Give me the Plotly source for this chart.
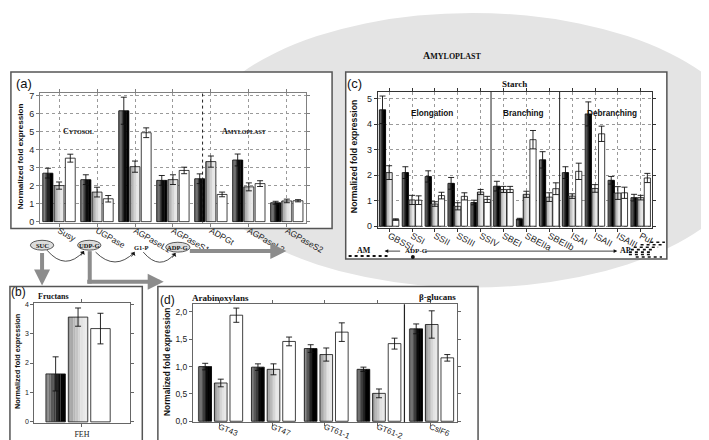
import plotly.graph_objects as go

W, H = 709, 440

# ---- panel (a): cytosol / amyloplast ----
a_genes = ["Susy", "UGPase", "AGPaseL1", "AGPaseS1", "ADPGt", "AGPaseL2", "AGPaseS2"]
a_black = [2.69, 2.33, 6.15, 2.29, 2.38, 3.42, 1.05]
a_black_err = [0.27, 0.27, 0.75, 0.27, 0.27, 0.33, 0.08]
a_gray = [2.0, 1.64, 3.05, 2.33, 3.33, 1.93, 1.15]
a_gray_err = [0.2, 0.27, 0.31, 0.27, 0.31, 0.22, 0.1]
a_white = [3.52, 1.27, 4.93, 2.84, 1.51, 2.11, 1.16]
a_white_err = [0.22, 0.18, 0.27, 0.18, 0.13, 0.16, 0.06]

# ---- panel (c): starch ----
c_genes = ["GBSSI", "SSI", "SSII", "SSIII", "SSIV", "SBEI", "SBEIIa", "SBEIIb",
           "ISAI", "ISAII", "ISAIII", "Pul"]
c_black = [4.56, 2.1, 1.95, 1.68, 0.93, 1.57, 0.28, 2.6, 2.1, 4.4, 1.8, 1.12]
c_black_err = [0.54, 0.23, 0.22, 0.23, 0.09, 0.19, 0.03, 0.32, 0.23, 0.47, 0.15, 0.13]
c_gray = [2.1, 1.03, 0.87, 0.78, 1.34, 1.44, 1.25, 1.14, 1.18, 1.48, 1.3, 1.12]
c_gray_err = [0.27, 0.18, 0.09, 0.14, 0.1, 0.12, 0.12, 0.17, 0.09, 0.15, 0.25, 0.09]
c_white = [0.26, 1.02, 1.2, 1.17, 1.05, 1.44, 3.39, 1.47, 2.15, 3.62, 1.31, 1.89]
c_white_err = [0.03, 0.17, 0.13, 0.14, 0.12, 0.12, 0.36, 0.23, 0.32, 0.3, 0.22, 0.18]

# ---- panel (b): fructans ----
b_genes = ["FEH"]
b_black = [1.63]
b_black_err = [0.58]
b_gray = [3.56]
b_gray_err = [0.31]
b_white = [3.17]
b_white_err = [0.52]

# ---- panel (d): arabinoxylans / beta-glucans ----
d_genes = ["GT43", "GT47", "GT61-1", "GT61-2", "CslF6"]
d_black = [1.0, 0.99, 1.33, 0.95, 1.69]
d_black_err = [0.06, 0.06, 0.07, 0.04, 0.09]
d_gray = [0.7, 0.95, 1.22, 0.51, 1.77]
d_gray_err = [0.07, 0.1, 0.12, 0.08, 0.25]
d_white = [1.94, 1.46, 1.63, 1.42, 1.16]
d_white_err = [0.13, 0.08, 0.17, 0.1, 0.06]

SANS = "Liberation Sans, Arial, sans-serif"
SERIF = "Liberation Serif, Times New Roman, serif"
# left -> right shading of each bar kind (None = plain white)
SHADES = [((0x8c, 0x8c, 0x8c), (0x00, 0x00, 0x00)),
          ((0x9a, 0x9a, 0x9a), (0xe8, 0xe8, 0xe8)),
          None]
N_STRIPS = 8
ARROW_GRAY = "#8c8c8c"


def px(x):
    return x / W


def py(y):
    return 1 - y / H


def pt(x, y):
    return f"{px(x):.5f},{py(y):.5f}"


def mix(c0, c1, t):
    return "rgb({},{},{})".format(*[round(a + (b - a) * t) for a, b in zip(c0, c1)])


fig = go.Figure()


def add_bars(xa, ya, cats, series, width, offsets):
    for (vals, errs), shade, off in zip(series, SHADES, offsets):
        if shade:
            # fake a horizontal gradient with thin strips
            sw = width / N_STRIPS
            for k in range(N_STRIPS):
                t = min(1.0, (k / (N_STRIPS - 1)) * 1.3)
                fig.add_trace(go.Bar(
                    x=cats, y=vals, xaxis=xa, yaxis=ya, width=sw * 1.02, offset=off + k * sw,
                    marker=dict(color=mix(shade[0], shade[1], t), line=dict(width=0)),
                    showlegend=False, hoverinfo="skip"))
            fill = "rgba(0,0,0,0)"
        else:
            fill = "white"
        fig.add_trace(go.Bar(
            x=cats, y=vals, xaxis=xa, yaxis=ya, width=width, offset=off,
            marker=dict(color=fill, line=dict(color="#111111", width=0.8)),
            error_y=dict(type="data", array=errs, color="#111111", thickness=0.9, width=3),
            showlegend=False, hoverinfo="x+y"))


add_bars("x", "y", a_genes, [(a_black, a_black_err), (a_gray, a_gray_err), (a_white, a_white_err)],
         0.26, [-0.425, -0.13, 0.165])
add_bars("x2", "y2", c_genes, [(c_black, c_black_err), (c_gray, c_gray_err), (c_white, c_white_err)],
         0.27, [-0.43, -0.14, 0.15])
add_bars("x3", "y3", b_genes, [(b_black, b_black_err), (b_gray, b_gray_err), (b_white, b_white_err)],
         0.204, [-0.378, -0.143, 0.092])
add_bars("x4", "y4", d_genes, [(d_black, d_black_err), (d_gray, d_gray_err), (d_white, d_white_err)],
         0.24, [-0.387, -0.092, 0.203])


def xax(left, right, anchor, n, angle, size, font=SANS, grid=False, line="#666666", standoff=0):
    return dict(domain=[px(left), px(right)], anchor=anchor, type="category",
                range=[-0.5, n - 0.5], showline=True, mirror="ticks", linecolor=line,
                linewidth=1, ticks="outside", ticklen=3, tickcolor=line,
                tickangle=angle, tickfont=dict(family=font, size=size, color="#222"),
                ticklabelstandoff=standoff,
                showgrid=grid, gridcolor="#9a9a9a", griddash="dot", gridwidth=0.8,
                zeroline=False, fixedrange=True)


def yax(top, bottom, anchor, rng, dtick, size, grid=False, fmt=None, line="#666666"):
    d = dict(domain=[py(bottom), py(top)], anchor=anchor, range=rng, dtick=dtick,
             showline=True, mirror="ticks", linecolor=line, linewidth=1,
             ticks="outside", ticklen=3, tickcolor=line,
             tickfont=dict(family=SANS, size=size, color="#222"),
             showgrid=grid, gridcolor="#9a9a9a", griddash="dot", gridwidth=0.8,
             zeroline=False, fixedrange=True)
    if fmt:
        d["tickformat"] = fmt
    return d


fig.update_layout(
    width=W, height=H,
    margin=dict(l=0, r=0, t=0, b=0),
    paper_bgcolor="white",
    plot_bgcolor="rgba(0,0,0,0)",
    barmode="overlay",
    separators=",.",
    showlegend=False,
    xaxis=xax(33, 306, "y", len(a_genes), 30, 8.5, grid=True, line="#808080", standoff=-4),
    yaxis=yax(83, 215, "x", [-0.05, 7.15], 1, 9, grid=True, line="#808080"),
    xaxis2=xax(380, 662, "y2", len(c_genes), 28, 9, grid=True, line="#333333", standoff=-4),
    yaxis2=yax(82, 220, "x2", [-0.05, 5.27], 1, 9, grid=True, line="#333333"),
    xaxis3=xax(27, 125, "y3", len(b_genes), 0, 8, font=SERIF),
    yaxis3=yax(297, 419, "x3", [-0.05, 4.03], 1, 7),
    xaxis4=xax(190, 461, "y4", len(d_genes), 22, 8, standoff=-7),
    yaxis4=yax(298, 418, "x4", [-0.02, 2.14], 0.5, 8.5, fmt=".1f"),
)

shapes = []
# amyloplast background
shapes.append(dict(type="circle", xref="paper", yref="paper", layer="below",
                   x0=px(190), x1=px(764), y0=py(281), y1=py(2),
                   fillcolor="#e4e4e4", line=dict(width=0)))
# panel frames
for (x0, y0, x1, y1) in [(3, 62, 333, 221), (347, 62, 677, 252), (2, 280, 138, 439), (154, 280, 483, 438)]:
    shapes.append(dict(type="rect", xref="paper", yref="paper", layer="below",
                       x0=px(x0), x1=px(x1), y0=py(y1), y1=py(y0),
                       fillcolor="white", line=dict(color="#555555", width=1.5)))
# separators inside plots
shapes.append(dict(type="line", xref="x", yref="y domain", x0=3.78, x1=3.78, y0=0, y1=1,
                   line=dict(color="#222", width=1, dash="dot")))
for xs in (4.45, 7.45):
    shapes.append(dict(type="line", xref="x2", yref="y2 domain", x0=xs, x1=xs, y0=0, y1=1,
                       line=dict(color="#222", width=1)))
shapes.append(dict(type="line", xref="x4", yref="y4 domain", x0=3.51, x1=3.51, y0=0, y1=1,
                   line=dict(color="#222", width=1.2)))

# metabolite ovals
for (cx, cy, w) in [(35, 238, 24), (83.5, 238, 24), (174.5, 240, 25)]:
    shapes.append(dict(type="circle", xref="paper", yref="paper",
                       x0=px(cx - w / 2), x1=px(cx + w / 2), y0=py(cy + 5), y1=py(cy - 5),
                       fillcolor="#dcdcdc", line=dict(color="#333", width=0.8)))
# curved conversion arrows
for (x1, y1, cx, cy, x2, y2) in [(40, 243, 59, 265, 78, 244), (90, 245, 110, 265, 130, 245),
                                 (139, 245, 156, 265, 172, 246)]:
    shapes.append(dict(type="path", xref="paper", yref="paper",
                       path=f"M {pt(x1, y1)} Q {pt(cx, cy)} {pt(x2, y2)}",
                       line=dict(color="#222", width=0.8)))
# thick gray L-arrow stem
shapes.append(dict(type="line", xref="paper", yref="paper", x0=px(84), x1=px(84),
                   y0=py(244), y1=py(277), line=dict(color=ARROW_GRAY, width=4)))

# AM / AP strip under panel (c)
shapes.append(dict(type="line", xref="paper", yref="paper", x0=px(350), x1=px(390),
                   y0=py(249), y1=py(249), line=dict(color="#111", width=2, dash="dot")))
shapes.append(dict(type="circle", xref="paper", yref="paper", x0=px(414), x1=px(418),
                   y0=py(252), y1=py(248), fillcolor="#111", line=dict(width=0)))
for (xa, xb, yy) in [(660, 675, 235), (650, 673, 237.5), (643, 668, 240), (640, 663, 242.5),
                     (638, 660, 245), (638, 662, 247.5), (645, 672, 250)]:
    shapes.append(dict(type="line", xref="paper", yref="paper", x0=px(xa), x1=px(xb),
                       y0=py(yy), y1=py(yy), line=dict(color="#111", width=1.6, dash="dot")))

fig.update_layout(shapes=shapes)


def txt(x, y, s, size, family=SANS, color="#111", angle=0, xanchor="center"):
    fig.add_annotation(x=px(x), y=py(y), xref="paper", yref="paper", text=s, showarrow=False,
                       font=dict(family=family, size=size, color=color), textangle=angle,
                       xanchor=xanchor, yanchor="middle")


def arrow(hx, hy, ax, ay, color="#111", width=0.8, head=2, size=1.0):
    fig.add_annotation(x=px(hx), y=py(hy), xref="paper", yref="paper", text="", showarrow=True,
                       ax=ax, ay=ay, arrowcolor=color, arrowwidth=width, arrowhead=head,
                       arrowsize=size, standoff=0, startstandoff=0)


def small_caps(word, big, small):
    return f"<span style='font-size:{big}px'>{word[0]}</span><span style='font-size:{small}px'>{word[1:]}</span>"


# panel letters
txt(16, 74, "(a)", 13)
txt(356, 74, "(c)", 13)
txt(11, 286, "(b)", 12)
txt(164, 294, "(d)", 12)

# titles and region labels
txt(457, 45, "<b>" + small_caps("AMYLOPLAST", 10, 8) + "</b>", 10, family=SERIF)
txt(72, 122, "<b>" + small_caps("CYTOSOL", 8, 6) + "</b>", 8, family=SERIF)
txt(243, 122, "<b>" + small_caps("AMYLOPLAST", 8, 6) + "</b>", 8, family=SERIF)
txt(520, 74, "<b>Starch</b>", 9, family=SERIF)
txt(436, 104, "<b>Elongation</b>", 8.2)
txt(530, 104, "<b>Branching</b>", 8.2)
txt(621, 104, "<b>Debranching</b>", 8.2)
txt(47, 290, "<b>Fructans</b>", 8, family=SERIF)
txt(218, 292, "<b>Arabinoxylans</b>", 9, family=SERIF)
txt(441, 291, "<b>β-glucans</b>", 9, family=SERIF)

# y-axis titles
txt(13, 148, "<b>Normalized fold expression</b>", 8.1, angle=-90)
txt(355, 148, "<b>Normalized fold expression</b>", 8.7, angle=-90)
txt(10, 356, "<b>Normalized fold expression</b>", 7.3, angle=-90)
txt(164, 357, "<b>Normalized fold expression</b>", 8.3, angle=-90)

# metabolites
txt(35, 238, "<b>SUC</b>", 6.5, family=SERIF)
txt(83.5, 238, "<b>UDP-G</b>", 6.5, family=SERIF)
txt(137, 240, "<b>G1-P</b>", 6.5, family=SERIF)
txt(174.5, 240, "<b>ADP-G</b>", 6.5, family=SERIF)
txt(366, 243, "<b>AM</b>", 8, family=SERIF)
txt(420, 243.5, "<b>ADP-G</b>", 7, family=SERIF)
txt(634, 243, "<b>AP</b>", 8, family=SERIF)

# arrows
arrow(78, 244, -4, 6, head=1, size=1.2)
arrow(130, 245, -4, 6, head=1, size=1.2)
arrow(172, 246, -4, 6, head=1, size=1.2)
arrow(387, 244, 17, 0, head=2, size=0.9)
arrow(626, 244, -194, 0, head=2, size=0.9)
arrow(286, 244, -98, 0, color=ARROW_GRAY, width=4, head=2, size=0.8)
arrow(35, 279, 0, -34, color=ARROW_GRAY, width=4, head=2, size=0.8)
arrow(160, 275, -78, 0, color=ARROW_GRAY, width=4, head=2, size=0.8)

fig.write_html("out.html")
